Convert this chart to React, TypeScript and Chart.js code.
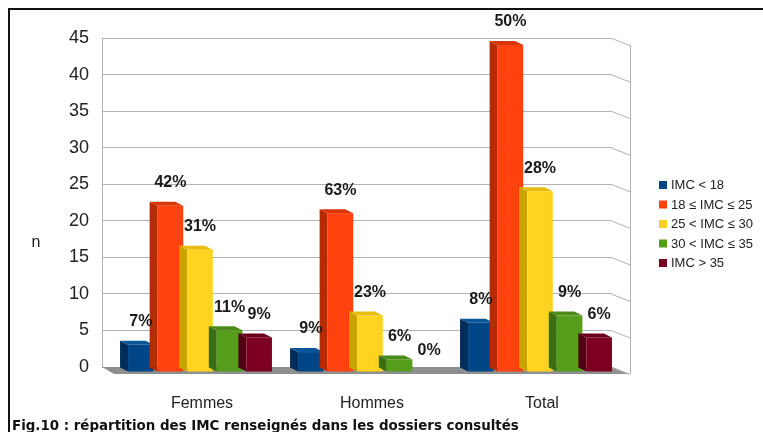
import React, { useEffect, useRef } from "react";
import { Chart, registerables } from "chart.js";

Chart.register(...registerables);

const categories = ["Femmes", "Hommes", "Total"];
const seriesNames = ["IMC < 18", "18 ≤ IMC ≤ 25", "25 < IMC ≤ 30", "30 < IMC ≤ 35", "IMC > 35"];
const imcUnder18 = [4, 3, 7];
const imc18to25 = [23, 22, 45];
const imc25to30 = [17, 8, 25];
const imc30to35 = [6, 2, 8];
const imcOver35 = [5, 0, 5];
const pctUnder18 = ["7%", "9%", "8%"];
const pct18to25 = ["42%", "63%", "50%"];
const pct25to30 = ["31%", "23%", "28%"];
const pct30to35 = ["11%", "6%", "9%"];
const pctOver35 = ["9%", "0%", "6%"];
const yMin = 0;
const yMax = 45;
const yStep = 5;
const yTitle = "n";
const caption = "Fig.10 : répartition des IMC renseignés dans les dossiers consultés";

const frontColors = ["#004586", "#ff420e", "#ffd320", "#579d1c", "#7e0021"];
const sideColors = ["#002d5a", "#b82a00", "#c9a400", "#3b6e12", "#520014"];
const capColors = ["#0a5598", "#d83508", "#e8bd10", "#4a8a18", "#6a001b"];

const seriesValues = [imcUnder18, imc18to25, imc25to30, imc30to35, imcOver35];
const seriesPct = [pctUnder18, pct18to25, pct25to30, pct30to35, pctOver35];

const FONT = "'Liberation Sans', Arial, sans-serif";

const bars3d = {
  id: "bars3d",
  beforeDatasetsDraw(chart: any) {
    const ctx = chart.ctx;
    const area = chart.chartArea;
    const yScale = chart.scales.y;
    const WX = 18, WY = 7;
    ctx.save();
    // floor
    const y0 = yScale.getPixelForValue(0);
    ctx.fillStyle = "#8f8f8f";
    ctx.beginPath();
    ctx.moveTo(area.left, y0);
    ctx.lineTo(area.right, y0);
    ctx.lineTo(area.right + WX, y0 + WY);
    ctx.lineTo(area.left + 12, y0 + WY);
    ctx.closePath();
    ctx.fill();
    // right wall
    ctx.strokeStyle = "#b3b3b3";
    ctx.lineWidth = 1;
    const yTop = yScale.getPixelForValue(yMax);
    ctx.beginPath();
    ctx.moveTo(area.right + WX + 0.5, yTop + WY);
    ctx.lineTo(area.right + WX + 0.5, y0 + WY);
    for (let v = yMin; v <= yMax; v += yStep) {
      const py = yScale.getPixelForValue(v);
      ctx.moveTo(area.right, py + 0.5);
      ctx.lineTo(area.right + WX, py + WY + 0.5);
    }
    ctx.stroke();

    // bars
    const D = 8, DY = 4;
    for (let d = 0; d < chart.data.datasets.length; d++) {
      const meta = chart.getDatasetMeta(d);
      meta.data.forEach((el: any, i: number) => {
        if (!seriesValues[d][i]) return;
        const p = el.getProps(["x", "y", "base", "width"], true);
        const left = p.x - p.width / 2;
        const right = p.x + p.width / 2;
        const fl = left + 15;
        const fr = right + 11;
        const ft = p.y + 7;
        const fb = p.base + 5;
        // side
        ctx.fillStyle = sideColors[d];
        ctx.beginPath();
        ctx.moveTo(fl, ft);
        ctx.lineTo(fl - D, ft - DY);
        ctx.lineTo(fl - D, fb - DY);
        ctx.lineTo(fl, fb);
        ctx.closePath();
        ctx.fill();
        // cap
        ctx.fillStyle = capColors[d];
        ctx.beginPath();
        ctx.moveTo(fl, ft);
        ctx.lineTo(fl - D, ft - DY);
        ctx.lineTo(fr - D, ft - DY);
        ctx.lineTo(fr, ft);
        ctx.closePath();
        ctx.fill();
        // front
        ctx.fillStyle = frontColors[d];
        ctx.fillRect(fl, ft, fr - fl, fb - ft);
      });
    }
    // value labels
    ctx.fillStyle = "#1a1a1a";
    ctx.font = `bold 16px ${FONT}`;
    ctx.textAlign = "center";
    ctx.textBaseline = "middle";
    for (let d = 0; d < chart.data.datasets.length; d++) {
      const meta = chart.getDatasetMeta(d);
      meta.data.forEach((el: any, i: number) => {
        const p = el.getProps(["x", "y", "base", "width"], true);
        ctx.fillText(seriesPct[d][i], p.x + 13, p.y - 16);
      });
    }
    // y title
    ctx.font = `16px ${FONT}`;
    ctx.fillStyle = "#222";
    ctx.fillText(yTitle, 36, 243);
    // legend
    ctx.font = `13px ${FONT}`;
    ctx.textAlign = "left";
    const legY = [185, 204.5, 224, 243.5, 263];
    for (let d = 0; d < chart.data.datasets.length; d++) {
      ctx.fillStyle = frontColors[d];
      ctx.fillRect(659, legY[d] - 4, 8, 8);
      ctx.fillStyle = "#222";
      ctx.fillText(chart.data.datasets[d].label, 671, legY[d] + 0.5);
    }
    ctx.restore();
    return false;
  },
};

export default function App() {
  const ref = useRef<HTMLCanvasElement>(null);
  useEffect(() => {
    if (!ref.current) return;
    const chart = new Chart(ref.current, {
      type: "bar",
      data: {
        labels: categories,
        datasets: seriesNames.map((name, d) => ({
          label: name,
          data: seriesValues[d],
          backgroundColor: frontColors[d],
          categoryPercentage: 0.87,
          barPercentage: 1.0,
        })),
      },
      options: {
        animation: false,
        responsive: false,
        maintainAspectRatio: false,
        layout: { padding: { left: 0, top: 38, right: 151, bottom: 0 } },
        plugins: { legend: { display: false }, tooltip: { enabled: false } },
        scales: {
          x: {
            grid: { display: false },
            border: { display: false },
            ticks: { color: "#222", font: { size: 16, family: FONT }, padding: 19, labelOffset: 15 },
            afterFit: (s: any) => { s.height = 65; },
          },
          y: {
            min: yMin,
            max: yMax,
            ticks: { stepSize: yStep, color: "#222", font: { size: 18, family: FONT }, padding: 13 },
            grid: { color: "#b3b3b3", drawTicks: false },
            border: { display: true, color: "#b3b3b3" },
            afterFit: (s: any) => { s.width = 102; },
          },
        },
      },
      plugins: [bars3d],
    });
    return () => chart.destroy();
  }, []);

  return (
    <div style={{ position: "fixed", left: 0, top: 0, width: 763, height: 432, overflow: "hidden", background: "#fff" }}>
      <canvas ref={ref} width={763} height={432} style={{ position: "absolute", left: 0, top: 0 }} />
      <div style={{ position: "absolute", left: 8, top: 8, width: 900, height: 600, border: "2px solid #111", boxSizing: "border-box", pointerEvents: "none" }} />
      <div style={{ position: "absolute", left: 12, top: 418, whiteSpace: "nowrap", font: `bold 13.4px 'DejaVu Sans', Verdana, sans-serif`, lineHeight: "16px", color: "#111" }}>
        {caption}
      </div>
    </div>
  );
}
